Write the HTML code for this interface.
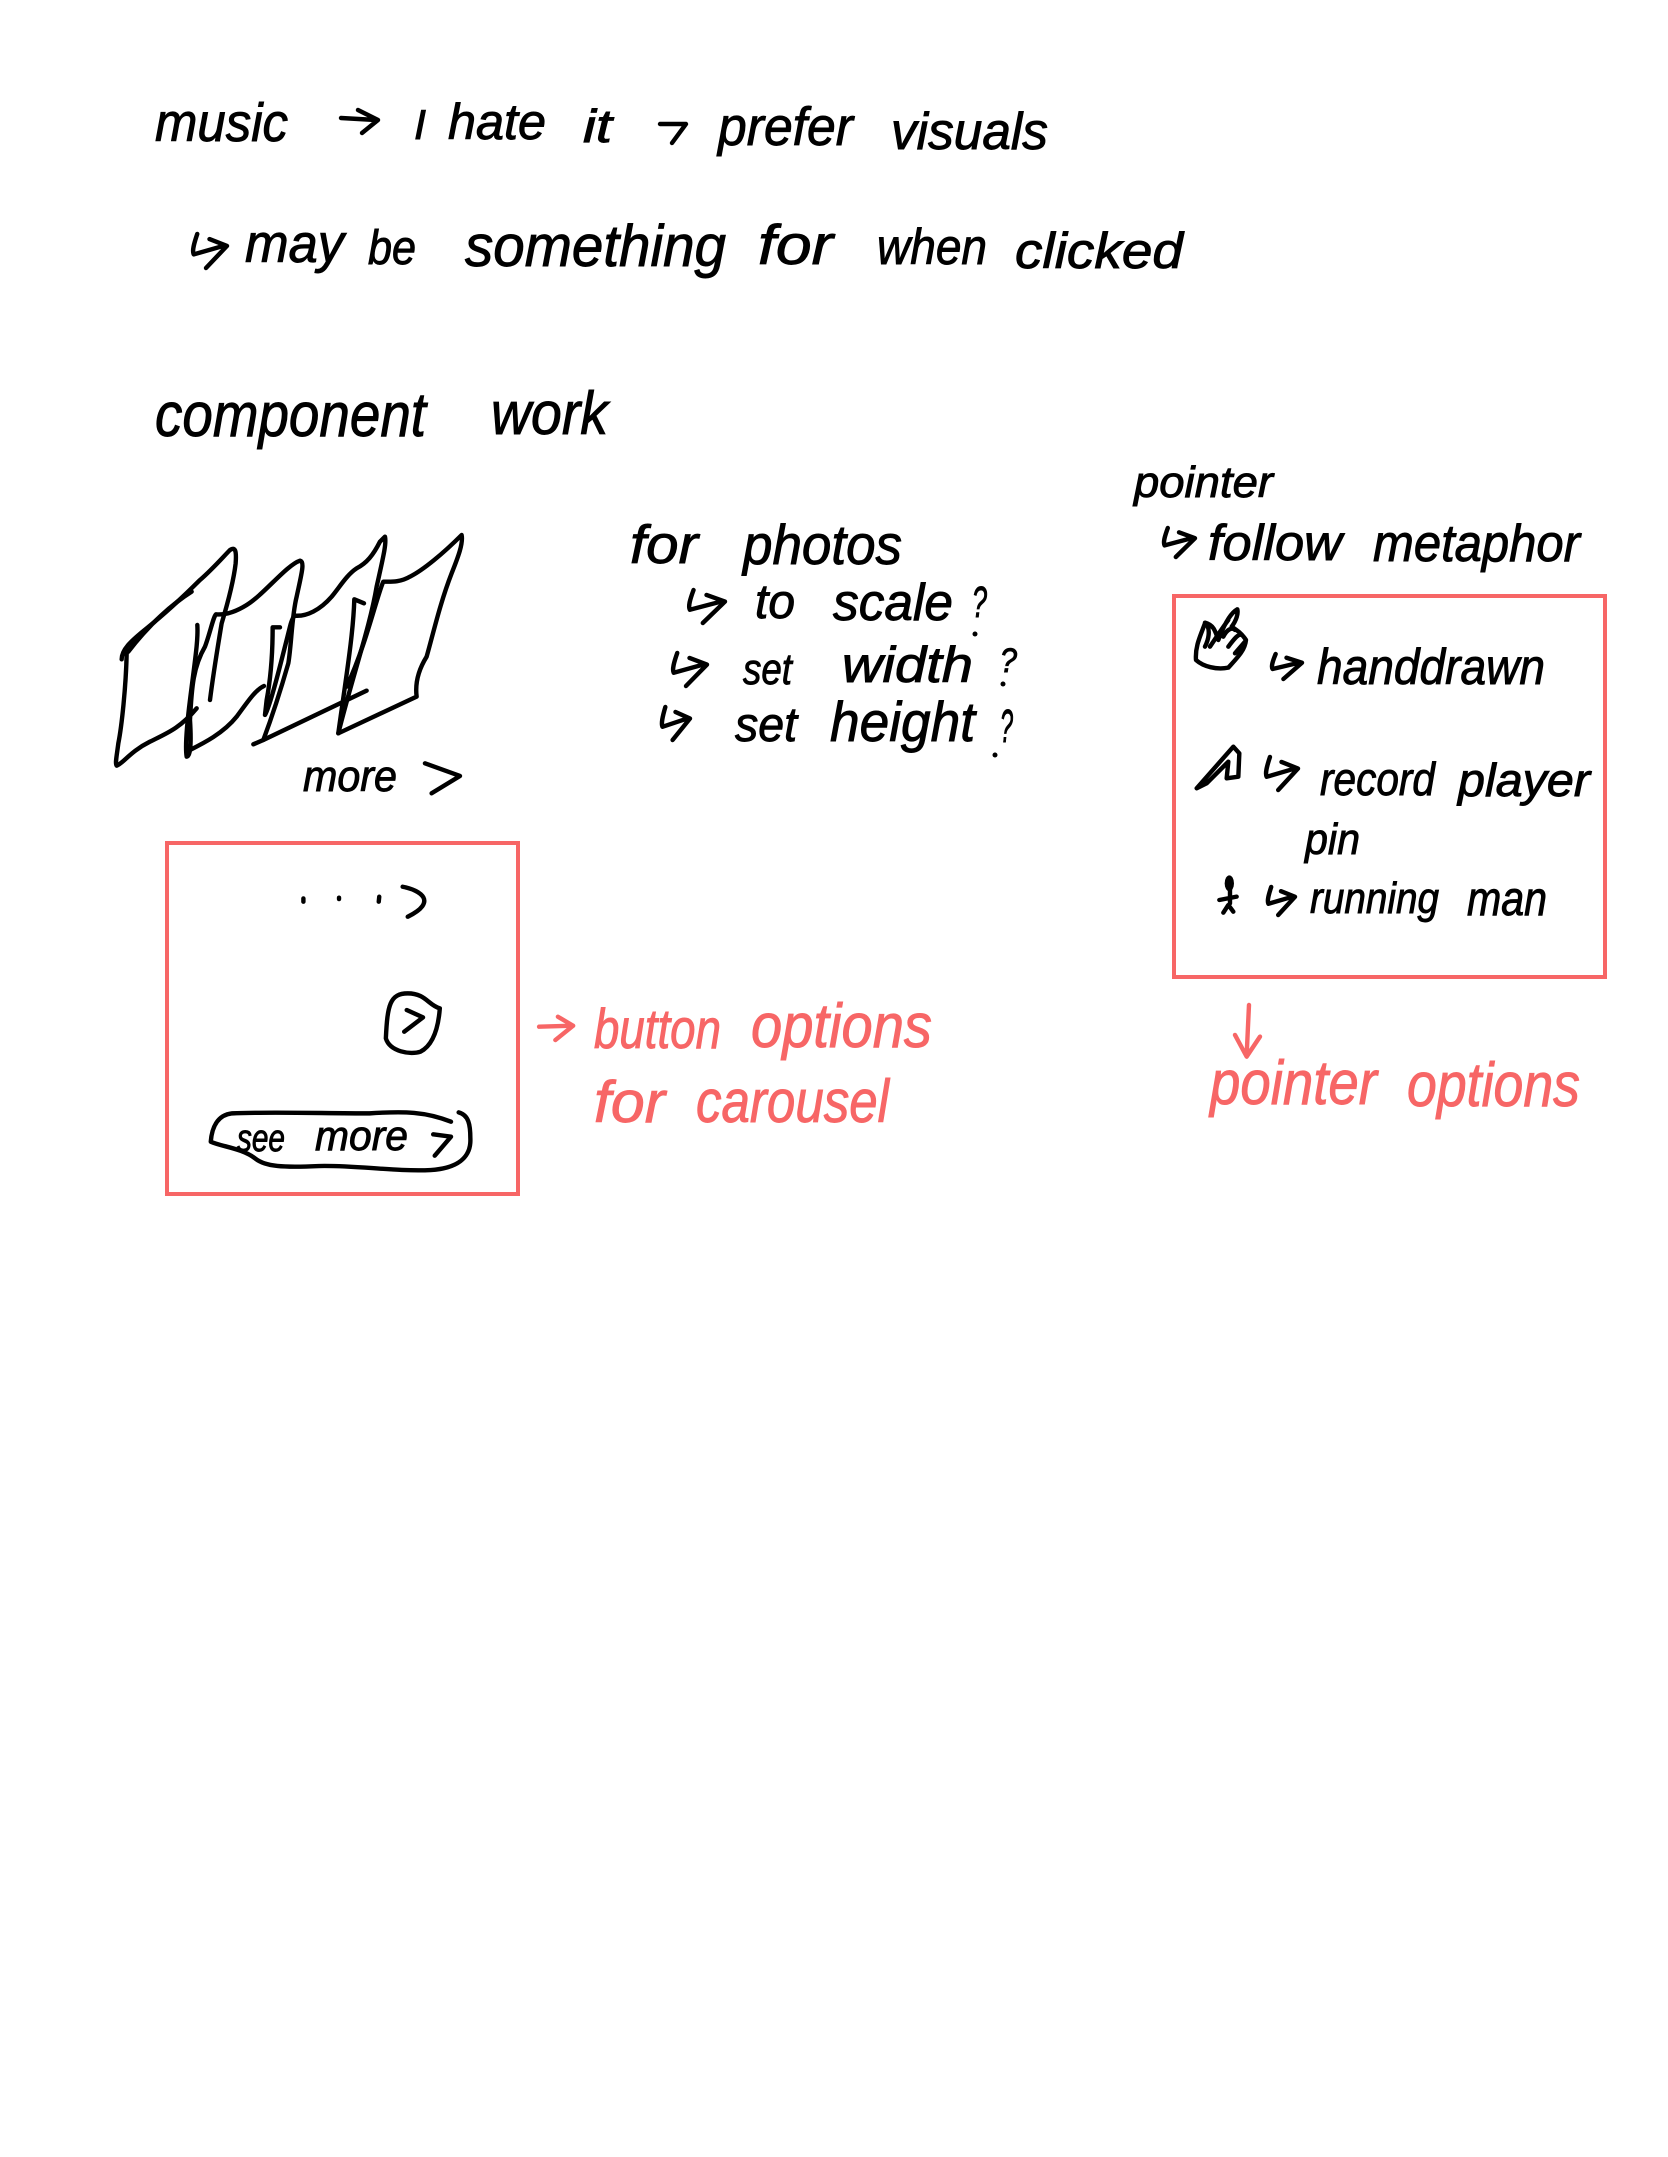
<!DOCTYPE html>
<html lang="en">
<head>
<meta charset="utf-8">
<title>Handwritten notes</title>
<style>
html,body{margin:0;padding:0;background:#fff;width:1668px;height:2157px;overflow:hidden}
svg{display:block}
text{font-family:"Liberation Sans",sans-serif;font-style:italic;fill:#000;stroke:#000;stroke-width:.9}
.r text,text.r{fill:#f76666;stroke:#f76666}
.s{fill:none;stroke:#000;stroke-width:4.4;stroke-linecap:round;stroke-linejoin:round;vector-effect:non-scaling-stroke}
.s.red{stroke:#f76666}
.box{fill:none;stroke:#f76666;stroke-width:4}
</style>
</head>
<body>
<svg xmlns="http://www.w3.org/2000/svg" width="1668" height="2157" viewBox="0 0 1668 2157">
<rect width="1668" height="2157" fill="#fff"/>

<g>
<text x="155" y="141" font-size="54" textLength="133" lengthAdjust="spacingAndGlyphs">music</text>
<path class="s" d="M341 118 L376 120 M358 110 L378 120 L362 133"/>
<text x="414" y="139" font-size="42" textLength="12" lengthAdjust="spacingAndGlyphs">I</text>
<text x="448" y="139" font-size="50" textLength="98" lengthAdjust="spacingAndGlyphs">hate</text>
<text x="583" y="142" font-size="46" textLength="29" lengthAdjust="spacingAndGlyphs">it</text>
<path class="s" d="M660 124 L686 124 L672 143"/>
<text x="718" y="145" font-size="54" textLength="135" lengthAdjust="spacingAndGlyphs">prefer</text>
<text x="891" y="149" font-size="52" textLength="157" lengthAdjust="spacingAndGlyphs">visuals</text>
</g>

<g>
<path class="s" transform="translate(192,234) scale(.35,.34)" d="M15 0 C5 30,0 50,5 60 L90 35 M50 15 L100 35 L40 100"/>
<text x="245" y="262" font-size="54" textLength="99" lengthAdjust="spacingAndGlyphs">may</text>
<text x="368" y="264" font-size="48" textLength="48" lengthAdjust="spacingAndGlyphs">be</text>
<text x="465" y="266" font-size="58" textLength="261" lengthAdjust="spacingAndGlyphs">something</text>
<text x="758" y="264" font-size="56" textLength="75" lengthAdjust="spacingAndGlyphs">for</text>
<text x="877" y="264" font-size="50" textLength="110" lengthAdjust="spacingAndGlyphs">when</text>
<text x="1015" y="268" font-size="50" textLength="168" lengthAdjust="spacingAndGlyphs">clicked</text>
</g>

<g>
<text x="155" y="436" font-size="62" textLength="271" lengthAdjust="spacingAndGlyphs">component</text>
<text x="491" y="434" font-size="60" textLength="117" lengthAdjust="spacingAndGlyphs">work</text>
</g>

<g transform="translate(90,500) scale(.3333)">
<path class="s" d="M110 460 C108 560,95 680,85 730 C80 770,75 790,80 797 C100 790,120 755,180 725 C230 700,270 685,320 625"/>
<path class="s" d="M95 478 C95 450,120 425,170 385 C220 345,280 290,330 240 C370 205,400 170,420 150 C435 140,440 150,437 190 C430 250,410 320,395 370 C385 430,370 520,360 600"/>
<path class="s" d="M305 275 C250 310,180 370,115 455"/>
<path class="s" d="M322 375 C325 420,315 480,300 600 C290 680,285 740,290 770 C300 770,305 740,300 660 C305 560,310 500,345 440 C360 400,370 350,378 343 C400 345,430 340,470 315 C520 285,590 195,630 182 C645 185,635 220,620 290 C605 350,605 430,595 490 C575 560,550 640,520 720"/>
<path class="s" d="M300 750 C340 730,400 700,440 650 C470 610,495 570,522 558"/>
<path class="s" d="M570 382 L548 382 C548 450,545 520,530 600 L525 645 C540 620,570 500,600 380 C605 360,610 350,615 347 C650 350,690 330,725 290 C750 260,770 225,800 205 C830 190,850 165,870 125 L885 110 C890 130,880 170,860 260 C840 380,790 520,745 700 M490 733 L520 720 L830 572"/>
<path class="s" d="M822 310 L793 298 C790 400,770 520,745 700 L980 590 C975 550,985 510,1010 470 C1030 400,1050 310,1085 220 C1105 170,1120 130,1115 105 C1060 160,1000 210,960 230 C930 248,900 245,880 245 C860 290,830 430,770 560"/>
<path class="s" d="M1005 790 L1110 828 L1025 880"/>
</g>
<text x="303" y="791" font-size="44" textLength="94" lengthAdjust="spacingAndGlyphs">more</text>

<rect class="box" x="167" y="843" width="351" height="351"/>
<g transform="translate(150.7,818.4) scale(.509,.3333)">
<path class="s" d="M300 240 L300 250"/>
<path class="s" d="M370 238 L370 242"/>
<path class="s" d="M449 235 L448 250"/>
<path class="s" d="M495 205 C530 215,565 250,505 295"/>
<path class="s" d="M505 525 C470 525,465 560,462 660 C470 700,510 710,530 700 C555 680,565 630,568 570 C545 560,540 525,505 525 Z"/>
<path class="s" d="M503 575 L535 597 L498 640"/>
<path class="s" d="M590 910 C540 880,500 878,430 885 C340 885,230 880,160 885 C130 890,120 930,118 970 C140 985,180 990,205 1020 C225 1045,260 1048,330 1043 C400 1040,480 1060,550 1055 C600 1050,630 1020,628 960 C628 920,625 890,605 882"/>
<path class="s" d="M555 948 L590 955 L558 1012"/>
<path class="s red" d="M763 625 L830 622 M800 595 L830 622 L795 665"/>
</g>
<text x="237" y="1151" font-size="38" textLength="48" lengthAdjust="spacingAndGlyphs">see</text>
<text x="315" y="1150" font-size="42" textLength="93" lengthAdjust="spacingAndGlyphs">more</text>

<g class="r">
<text x="594" y="1048" font-size="56" textLength="127" lengthAdjust="spacingAndGlyphs">button</text>
<text x="751" y="1047" font-size="62" textLength="181" lengthAdjust="spacingAndGlyphs">options</text>
<text x="594" y="1122" font-size="58" textLength="71" lengthAdjust="spacingAndGlyphs">for</text>
<text x="696" y="1122" font-size="60" textLength="193" lengthAdjust="spacingAndGlyphs">carousel</text>
</g>

<g>
<text x="630" y="563" font-size="54" textLength="68" lengthAdjust="spacingAndGlyphs">for</text>
<text x="743" y="564" font-size="56" textLength="159" lengthAdjust="spacingAndGlyphs">photos</text>
<path class="s" transform="translate(688,590) scale(.37,.33)" d="M15 0 C5 30,0 50,5 60 L90 35 M50 15 L100 35 L40 100"/>
<text x="755" y="618" font-size="48" textLength="40" lengthAdjust="spacingAndGlyphs">to</text>
<text x="833" y="620" font-size="52" textLength="120" lengthAdjust="spacingAndGlyphs">scale</text>
<text x="972" y="617" font-size="44" textLength="15" lengthAdjust="spacingAndGlyphs">?</text>
<circle cx="975" cy="634" r="2.5"/>
<path class="s" transform="translate(672,653) scale(.35,.33)" d="M15 0 C5 30,0 50,5 60 L90 35 M50 15 L100 35 L40 100"/>
<text x="743" y="684" font-size="44" textLength="49" lengthAdjust="spacingAndGlyphs">set</text>
<text x="842" y="682" font-size="50" textLength="131" lengthAdjust="spacingAndGlyphs">width</text>
<text x="1000" y="672" font-size="34" textLength="17" lengthAdjust="spacingAndGlyphs">?</text>
<circle cx="1003" cy="684" r="2.5"/>
<path class="s" transform="translate(661,707) scale(.29,.33)" d="M15 0 C5 30,0 50,5 60 L90 35 M50 15 L100 35 L40 100"/>
<text x="735" y="741" font-size="48" textLength="62" lengthAdjust="spacingAndGlyphs">set</text>
<text x="830" y="741" font-size="56" textLength="145" lengthAdjust="spacingAndGlyphs">height</text>
<text x="1000" y="742" font-size="46" textLength="13" lengthAdjust="spacingAndGlyphs">?</text>
<circle cx="995" cy="755" r="2.5"/>
</g>

<g>
<text x="1134" y="497" font-size="44" textLength="139" lengthAdjust="spacingAndGlyphs">pointer</text>
<path class="s" transform="translate(1163,528) scale(.32,.29)" d="M15 0 C5 30,0 50,5 60 L90 35 M50 15 L100 35 L40 100"/>
<text x="1208" y="560" font-size="50" textLength="134" lengthAdjust="spacingAndGlyphs">follow</text>
<text x="1373" y="561" font-size="52" textLength="207" lengthAdjust="spacingAndGlyphs">metaphor</text>
</g>

<rect class="box" x="1174" y="596" width="431" height="381"/>
<g transform="translate(1110,450) scale(.3333)">
<path class="s" d="M285 520 C270 560,255 590,258 630 C280 650,320 660,355 653 C385 620,405 600,408 570 C395 550,380 540,365 530 C380 510,385 490,382 478 C360 490,340 530,325 570 C315 540,310 525,285 518 C300 530,300 560,285 590 M340 560 C350 540,365 530,375 540 M355 590 C370 570,385 550,395 555 M375 610 L405 575 M300 590 C320 560,340 530,355 510"/>
</g>
<path class="s" transform="translate(1271,654) scale(.31,.25)" d="M15 0 C5 30,0 50,5 60 L90 35 M50 15 L100 35 L40 100"/>
<text x="1317" y="684" font-size="50" textLength="228" lengthAdjust="spacingAndGlyphs">handdrawn</text>

<g transform="translate(1150,720) scale(.3333)">
<path class="s" d="M140 205 L250 80 L268 100 L265 170 L230 175 L235 125 L170 190 Z"/>
<ellipse cx="238" cy="490" rx="14" ry="24"/>
<path class="s" d="M240 510 L240 550 M208 540 L260 530 M220 578 L235 555 L250 575"/>
<path class="s red" d="M297 855 L290 1005 M255 945 L290 1010 L330 950"/>
</g>
<path class="s" transform="translate(1265,757) scale(.33,.33)" d="M15 0 C5 30,0 50,5 60 L90 35 M50 15 L100 35 L40 100"/>
<text x="1320" y="795" font-size="46" textLength="115" lengthAdjust="spacingAndGlyphs">record</text>
<text x="1458" y="796" font-size="46" textLength="132" lengthAdjust="spacingAndGlyphs">player</text>
<text x="1305" y="854" font-size="44" textLength="55" lengthAdjust="spacingAndGlyphs">pin</text>
<path class="s" transform="translate(1267,887) scale(.28,.28)" d="M15 0 C5 30,0 50,5 60 L90 35 M50 15 L100 35 L40 100"/>
<text x="1310" y="913" font-size="44" textLength="129" lengthAdjust="spacingAndGlyphs">running</text>
<text x="1467" y="915" font-size="48" textLength="80" lengthAdjust="spacingAndGlyphs">man</text>

<g class="r">
<text x="1210" y="1104" font-size="62" textLength="167" lengthAdjust="spacingAndGlyphs">pointer</text>
<text x="1407" y="1106" font-size="62" textLength="173" lengthAdjust="spacingAndGlyphs">options</text>
</g>
</svg>
</body>
</html>
